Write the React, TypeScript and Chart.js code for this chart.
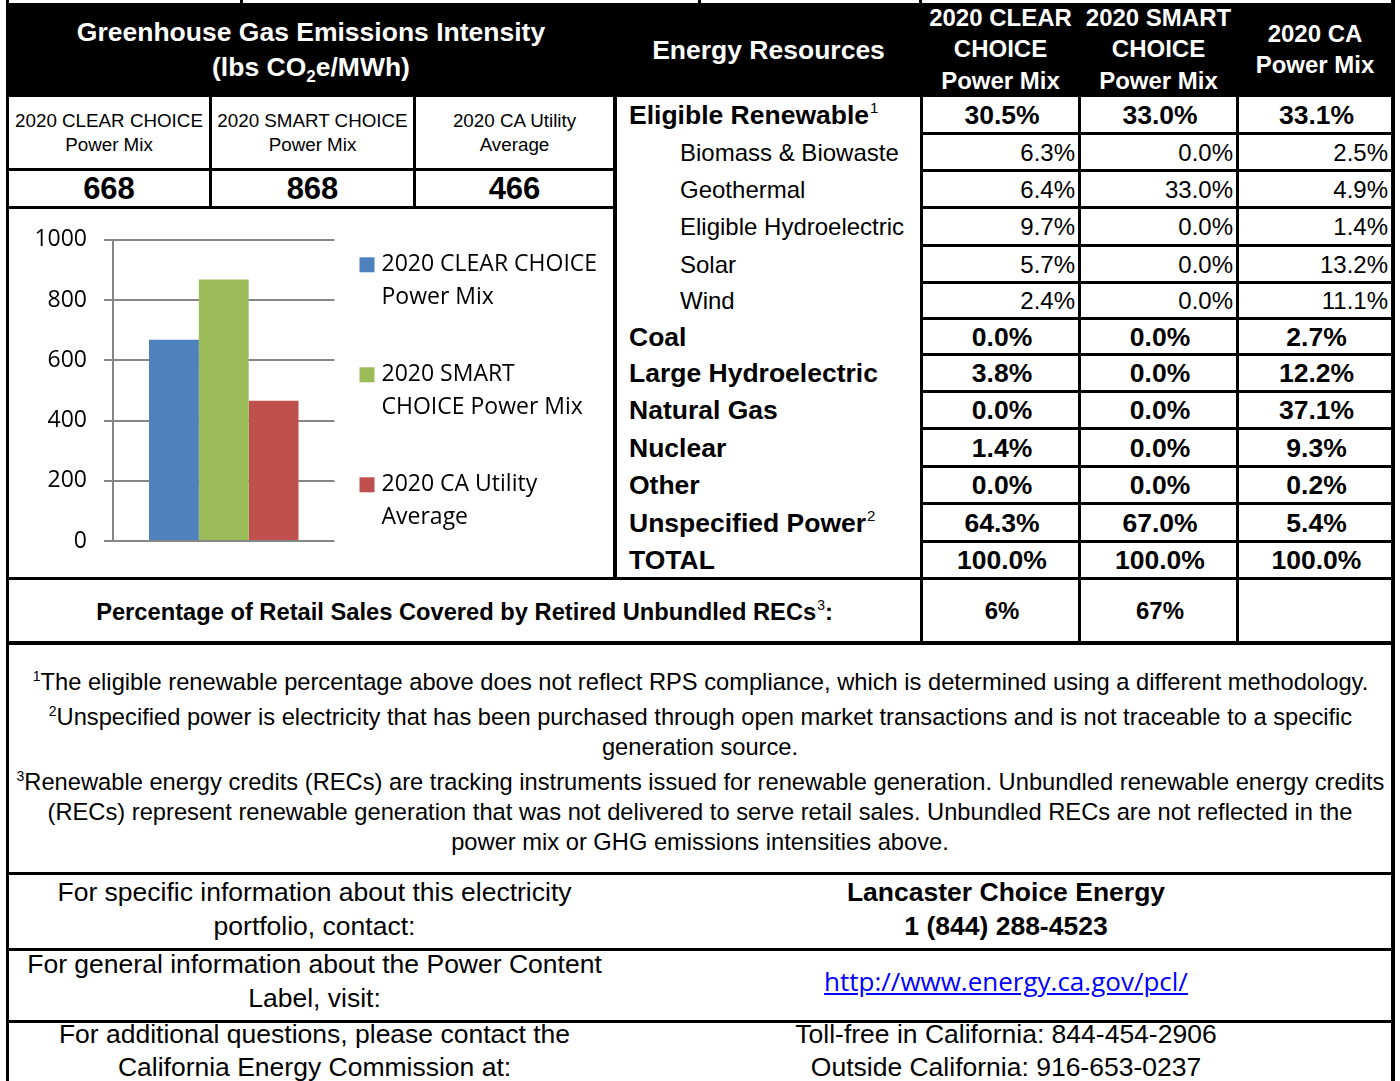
import React, { useEffect, useRef } from 'react';
import { Chart, registerables } from 'chart.js';

Chart.register(...registerables);

// ---------------- data ----------------
const ghgColumnLines = [
  ['2020 CLEAR CHOICE', 'Power Mix'],
  ['2020 SMART CHOICE', 'Power Mix'],
  ['2020 CA Utility', 'Average'],
];
const ghgSeriesNames = ['2020 CLEAR CHOICE Power Mix', '2020 SMART CHOICE Power Mix', '2020 CA Utility Average'];
const ghgIntensity = [668, 868, 466];
const legendLines = [
  ['2020 CLEAR CHOICE', 'Power Mix'],
  ['2020 SMART', 'CHOICE Power Mix'],
  ['2020 CA Utility', 'Average'],
];
const yAxisMin = 0;
const yAxisMax = 1000;
const yAxisStep = 200;

const mixHeaders = [
  ['2020 CLEAR', 'CHOICE', 'Power Mix'],
  ['2020 SMART', 'CHOICE', 'Power Mix'],
  ['2020 CA', 'Power Mix'],
];
const resourceNames = [
  'Eligible Renewable',
  'Biomass & Biowaste',
  'Geothermal',
  'Eligible Hydroelectric',
  'Solar',
  'Wind',
  'Coal',
  'Large Hydroelectric',
  'Natural Gas',
  'Nuclear',
  'Other',
  'Unspecified Power',
  'TOTAL',
];
const resourceIsSub = [false, true, true, true, true, true, false, false, false, false, false, false, false];
const resourceNote = ['1', '', '', '', '', '', '', '', '', '', '', '2', ''];
const clearChoiceMix = [30.5, 6.3, 6.4, 9.7, 5.7, 2.4, 0.0, 3.8, 0.0, 1.4, 0.0, 64.3, 100.0];
const smartChoiceMix = [33.0, 0.0, 33.0, 0.0, 0.0, 0.0, 0.0, 0.0, 0.0, 0.0, 0.0, 67.0, 100.0];
const caPowerMix = [33.1, 2.5, 4.9, 1.4, 13.2, 11.1, 2.7, 12.2, 37.1, 9.3, 0.2, 5.4, 100.0];
const recsLabel = 'Percentage of Retail Sales Covered by Retired Unbundled RECs';
const unbundledRecs = ['6%', '67%', ''];

const footnotes: { note: string; lines: string[] }[] = [
  { note: '1', lines: ['The eligible renewable percentage above does not reflect RPS compliance, which is determined using a different methodology.'] },
  { note: '2', lines: ['Unspecified power is electricity that has been purchased through open market transactions and is not traceable to a specific', 'generation source.'] },
  {
    note: '3',
    lines: [
      'Renewable energy credits (RECs) are tracking instruments issued for renewable generation. Unbundled renewable energy credits',
      '(RECs) represent renewable generation that was not delivered to serve retail sales. Unbundled RECs are not reflected in the',
      'power mix or GHG emissions intensities above.',
    ],
  },
];
const contactLeft = [
  ['For specific information about this electricity', 'portfolio, contact:'],
  ['For general information about the Power Content', 'Label, visit:'],
  ['For additional questions, please contact the', 'California Energy Commission at:'],
];
const contactRight = [
  ['Lancaster Choice Energy', '1 (844) 288-4523'],
  ['http://www.energy.ca.gov/pcl/'],
  ['Toll-free in California: 844-454-2906', 'Outside California: 916-653-0237'],
];

// ---------------- styles / layout ----------------
const seriesColors = ['#4F81BD', '#9BBB59', '#C0504D'];
const ARIAL = '"Liberation Sans", Arial, Helvetica, sans-serif';
const CHART_FONT = '"Open Sans", sans-serif';
const rowLines = [97, 133, 170, 207, 245, 282, 318, 354, 391, 428, 466, 503, 541, 578];
const valueCols = [
  { l: 923, w: 155 },
  { l: 1081, w: 155 },
  { l: 1239, w: 152 },
];
const ghgCols = [
  { l: 9, w: 200 },
  { l: 212, w: 201 },
  { l: 416, w: 197 },
];
const contactRows = [
  { t: 875, lh: 34 },
  { t: 947, lh: 34 },
  { t: 1017.5, lh: 33 },
];

type BoxProps = { l: number; t: number; w: number; h: number; bg?: string };
const Rect = ({ l, t, w, h, bg = '#000' }: BoxProps) => (
  <div style={{ position: 'absolute', left: l, top: t, width: w, height: h, background: bg }} />
);

type TextProps = {
  l: number;
  t: number;
  w: number;
  h: number;
  align?: 'left' | 'center' | 'right';
  style?: React.CSSProperties;
  children?: React.ReactNode;
};
const TextBox = ({ l, t, w, h, align = 'center', style, children }: TextProps) => (
  <div
    style={{
      position: 'absolute',
      left: l,
      top: t,
      width: w,
      height: h,
      display: 'flex',
      alignItems: 'center',
      justifyContent: align === 'center' ? 'center' : align === 'right' ? 'flex-end' : 'flex-start',
      textAlign: align,
      boxSizing: 'border-box',
      whiteSpace: 'nowrap',
      ...style,
    }}
  >
    {children}
  </div>
);

const Sup = ({ n, size = 14, top = -10 }: { n: string; size?: number; top?: number }) => (
  <span style={{ fontSize: size, fontWeight: 400, position: 'relative', top, marginLeft: 1, lineHeight: 0 }}>{n}</span>
);

function GhgChart() {
  const ref = useRef<HTMLCanvasElement>(null);
  useEffect(() => {
    if (!ref.current) return;
    const sideLegend = {
      id: 'sideLegend',
      afterDraw(chart: any) {
        const { ctx, chartArea } = chart;
        ctx.save();
        ctx.font = `23px ${CHART_FONT}`;
        ctx.textBaseline = 'middle';
        ctx.textAlign = 'left';
        chart.data.datasets.forEach((ds: any, i: number) => {
          const x = chartArea.right + 25;
          const y = chartArea.top + 25 + i * 110;
          ctx.fillStyle = ds.backgroundColor;
          ctx.fillRect(x, y - 7.5, 15, 15);
          ctx.fillStyle = '#000';
          legendLines[i].forEach((line, j) => ctx.fillText(line, x + 22, y + j * 32.5));
        });
        ctx.restore();
      },
    };
    const chart = new Chart(ref.current, {
      type: 'bar',
      data: {
        labels: [''],
        datasets: ghgSeriesNames.map((name, i) => ({
          label: name,
          data: [ghgIntensity[i]],
          backgroundColor: seriesColors[i],
          borderWidth: 0,
          barPercentage: 1,
          categoryPercentage: 0.675,
        })),
      },
      options: {
        animation: false,
        responsive: false,
        maintainAspectRatio: false,
        layout: { padding: { left: 0, top: 29, right: 278.5, bottom: 35 } },
        plugins: { legend: { display: false }, tooltip: { enabled: false } },
        scales: {
          x: { display: false },
          y: {
            min: yAxisMin,
            max: yAxisMax,
            ticks: {
              stepSize: yAxisStep,
              color: '#000',
              padding: 17,
              font: { family: CHART_FONT, size: 23 },
              callback: (v: any) => String(v),
            },
            grid: { color: '#868686', lineWidth: 2, tickLength: 9, tickColor: '#868686', tickWidth: 2 },
            border: { color: '#868686', width: 2 },
            afterFit: (scale: any) => {
              scale.width = 104;
            },
          },
        },
      },
      plugins: [sideLegend],
    });
    return () => chart.destroy();
  }, []);
  return (
    <canvas
      ref={ref}
      width={604}
      height={367}
      style={{ position: 'absolute', left: 9, top: 209, width: 604, height: 367 }}
    />
  );
}

const fmt = (v: number) => v.toFixed(1) + '%';

export default function App() {
  const mixCols = [clearChoiceMix, smartChoiceMix, caPowerMix];
  const fullW = 1389;
  return (
    <div
      style={{
        position: 'absolute',
        left: 0,
        top: 0,
        width: 1400,
        height: 1081,
        overflow: 'hidden',
        background: '#fff',
        fontFamily: ARIAL,
        color: '#000',
      }}
    >
      {/* top strip remnants */}
      <Rect l={240} t={0} w={3} h={3} />
      <Rect l={698} t={0} w={3} h={3} />
      <Rect l={919} t={0} w={3} h={3} />
      {/* header */}
      <Rect l={6} t={2.5} w={fullW} h={94.5} />
      <TextBox l={9} t={3} w={604} h={94} style={{ color: '#fff', fontWeight: 700, fontSize: 26.5, lineHeight: '35px' }}>
        <div>
          <div>Greenhouse Gas Emissions Intensity</div>
          <div>
            (lbs CO<span style={{ fontSize: 17, position: 'relative', top: 6, lineHeight: 0 }}>2</span>e/MWh)
          </div>
        </div>
      </TextBox>
      <TextBox l={617} t={3} w={303} h={94} style={{ color: '#fff', fontWeight: 700, fontSize: 26.5 }}>
        Energy Resources
      </TextBox>
      {mixHeaders.map((lines, i) => (
        <TextBox
          key={'mh' + i}
          l={valueCols[i].l}
          t={2}
          w={valueCols[i].w}
          h={94}
          style={{ color: '#fff', fontWeight: 700, fontSize: 24, lineHeight: '31.5px' }}
        >
          <div>
            {lines.map((s, j) => (
              <div key={j}>{s}</div>
            ))}
          </div>
        </TextBox>
      ))}

      {/* outer borders */}
      <Rect l={6} t={0} w={3} h={1081} />
      <Rect l={1391} t={0} w={4} h={1081} />

      {/* GHG boxes */}
      {ghgColumnLines.map((lines, i) => (
        <TextBox key={'gl' + i} l={ghgCols[i].l} t={97} w={ghgCols[i].w} h={71} style={{ fontSize: 18.8, lineHeight: '24px' }}>
          <div>
            {lines.map((s, j) => (
              <div key={j}>{s}</div>
            ))}
          </div>
        </TextBox>
      ))}
      {ghgIntensity.map((v, i) => (
        <TextBox key={'gv' + i} l={ghgCols[i].l} t={171} w={ghgCols[i].w} h={34.5} style={{ fontSize: 31, fontWeight: 700, paddingTop: 1 }}>
          {v}
        </TextBox>
      ))}
      <Rect l={209} t={97} w={3} h={111} />
      <Rect l={413} t={97} w={3} h={111} />
      <Rect l={9} t={168} w={604} h={3} />
      <Rect l={9} t={205.5} w={604} h={3} />
      <GhgChart />
      <Rect l={613} t={97} w={4} h={483} />

      {/* energy resources table */}
      {resourceNames.map((name, i) => {
        const top = rowLines[i] + (i === 0 ? 0 : 1.5);
        const h = rowLines[i + 1] - 1.5 - top;
        const sub = resourceIsSub[i];
        return (
          <React.Fragment key={'r' + i}>
            <TextBox
              l={617}
              t={top}
              w={303}
              h={h}
              align="left"
              style={{
                paddingLeft: sub ? 63 : 12,
                paddingTop: 2,
                fontSize: sub ? 24 : 26.5,
                fontWeight: sub ? 400 : 700,
              }}
            >
              <span>
                {name}
                {resourceNote[i] ? <Sup n={resourceNote[i]} size={15} top={-11} /> : null}
              </span>
            </TextBox>
            {mixCols.map((col, c) => (
              <TextBox
                key={'v' + c}
                l={valueCols[c].l}
                t={top}
                w={valueCols[c].w}
                h={h}
                align={sub ? 'right' : 'center'}
                style={{
                  paddingRight: sub ? 3 : 0,
                  paddingLeft: sub ? 0 : 3,
                  paddingTop: 2,
                  fontSize: sub ? 24 : 26.5,
                  fontWeight: sub ? 400 : 700,
                }}
              >
                {fmt(col[i])}
              </TextBox>
            ))}
          </React.Fragment>
        );
      })}
      {rowLines.slice(1, -1).map((y, i) => (
        <Rect key={'hl' + i} l={920} t={y - 1.5} w={475} h={3} />
      ))}
      {valueCols.map((c, i) => (
        <Rect key={'vl' + i} l={c.l - 3} t={97} w={3} h={546} />
      ))}
      <Rect l={6} t={576.5} w={fullW} h={3.5} />

      {/* RECs row */}
      <TextBox l={9} t={580} w={911} h={61} style={{ fontSize: 23.7, fontWeight: 700, paddingTop: 3 }}>
        <span>
          {recsLabel}
          <Sup n="3" size={14} top={-10} />:
        </span>
      </TextBox>
      {unbundledRecs.map((v, i) => (
        <TextBox key={'rec' + i} l={valueCols[i].l} t={580} w={valueCols[i].w} h={61} style={{ fontSize: 24, fontWeight: 700, paddingLeft: 3 }}>
          {v}
        </TextBox>
      ))}
      <Rect l={6} t={641} w={fullW} h={3.5} />

      {/* footnotes */}
      <div
        style={{
          position: 'absolute',
          left: 9,
          top: 667,
          width: 1382,
          textAlign: 'center',
          fontSize: 23.7,
          lineHeight: '30px',
          whiteSpace: 'nowrap',
        }}
      >
        {footnotes.map((f, i) => (
          <div key={'fn' + i} style={{ marginBottom: 5 }}>
            {f.lines.map((line, j) => (
              <div key={j}>
                {j === 0 ? <Sup n={f.note} size={14} top={-9} /> : null}
                {line}
              </div>
            ))}
          </div>
        ))}
      </div>
      <Rect l={6} t={871.5} w={fullW} h={3.5} />

      {/* contact rows */}
      {contactLeft.map((lines, i) => (
        <TextBox
          key={'cl' + i}
          l={9}
          t={contactRows[i].t}
          w={611}
          h={contactRows[i].lh * 2}
          style={{ fontSize: 26.5, lineHeight: contactRows[i].lh + 'px' }}
        >
          <div>
            {lines.map((s, j) => (
              <div key={j}>{s}</div>
            ))}
          </div>
        </TextBox>
      ))}
      {contactRight.map((lines, i) => {
        const isLink = i === 1;
        return (
          <TextBox
            key={'cr' + i}
            l={620}
            t={contactRows[i].t}
            w={772}
            h={contactRows[i].lh * 2}
            style={{ fontSize: 26.5, lineHeight: contactRows[i].lh + 'px', fontWeight: i === 0 ? 700 : 400 }}
          >
            {isLink ? (
              <a
                href={lines[0]}
                style={{ color: '#0000ff', textDecoration: 'underline', fontFamily: CHART_FONT, fontSize: 26 }}
              >
                {lines[0]}
              </a>
            ) : (
              <div>
                {lines.map((s, j) => (
                  <div key={j}>{s}</div>
                ))}
              </div>
            )}
          </TextBox>
        );
      })}
      <Rect l={6} t={947.5} w={fullW} h={3.5} />
      <Rect l={6} t={1019.5} w={fullW} h={3} />
    </div>
  );
}
